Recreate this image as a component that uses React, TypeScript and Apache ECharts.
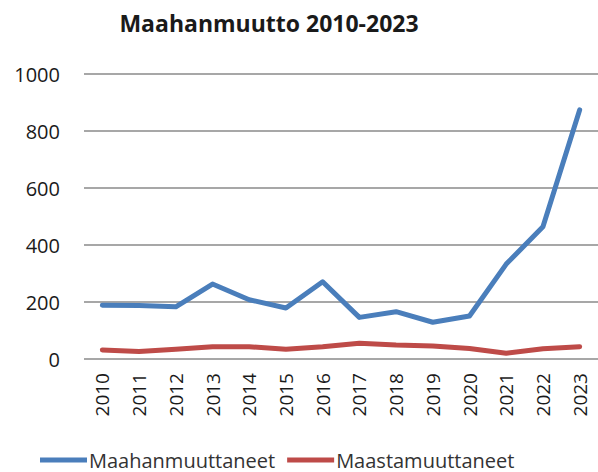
import React, { useEffect, useRef } from "react";
import * as echarts from "echarts";

const years = ["2010","2011","2012","2013","2014","2015","2016","2017","2018","2019","2020","2021","2022","2023"];
const maahanmuuttaneet = [189, 188, 183, 263, 208, 179, 271, 146, 166, 129, 151, 333, 464, 874];
const maastamuuttaneet = [32, 26, 34, 43, 43, 34, 43, 55, 49, 46, 37, 20, 36, 43];
const titleText = "Maahanmuutto 2010-2023";
const seriesNames = ["Maahanmuuttaneet", "Maastamuuttaneet"];

const FONT = "'Open Sans', 'Liberation Sans', sans-serif";

export default function App() {
  const ref = useRef<HTMLDivElement>(null);
  useEffect(() => {
    const chart = echarts.init(ref.current!, null, { renderer: "svg" });
    chart.setOption({
      animation: false,
      backgroundColor: "#ffffff",
      title: {
        text: titleText,
        left: 264,
        textAlign: "center",
        top: 6,
        textStyle: { fontFamily: FONT, fontSize: 23, fontWeight: "bold", color: "#1a1a1a" },
      },
      grid: { left: 84, right: -2, top: 74, bottom: 113, containLabel: false },
      legend: {
        left: 35,
        top: 445,
        itemWidth: 47,
        itemHeight: 5,
        itemGap: 12,
        icon: "rect",
        textStyle: { fontFamily: FONT, fontSize: 20, color: "#333", padding: [0, 0, 0, -3] },
        data: seriesNames,
      },
      xAxis: {
        type: "category",
        data: years,
        boundaryGap: true,
        axisLine: { show: false },
        axisTick: { show: false },
        axisLabel: { rotate: 90, margin: 14, fontFamily: FONT, fontSize: 19, color: "#1a1a1a", interval: 0 },
      },
      yAxis: {
        type: "value",
        min: 0,
        max: 1000,
        interval: 200,
        axisLine: { show: false },
        axisTick: { show: false },
        axisLabel: { margin: 24, fontFamily: FONT, fontSize: 20, color: "#1a1a1a", formatter: (v: number) => String(v) },
        splitLine: { lineStyle: { color: "#8a8a8a", width: 1.5 } },
      },
      series: [
        {
          name: seriesNames[0],
          type: "line",
          data: maahanmuuttaneet,
          symbol: "none",
          color: "#4A7EBB",
          lineStyle: { width: 5, color: "#4A7EBB", cap: "round", join: "round" },
        },
        {
          name: seriesNames[1],
          type: "line",
          data: maastamuuttaneet,
          symbol: "none",
          color: "#BE4B48",
          lineStyle: { width: 5, color: "#BE4B48", cap: "round", join: "round" },
        },
      ],
    });
    return () => chart.dispose();
  }, []);
  return <div ref={ref} style={{ width: 598, height: 472, position: "absolute", left: 0, top: 0 }} />;
}
